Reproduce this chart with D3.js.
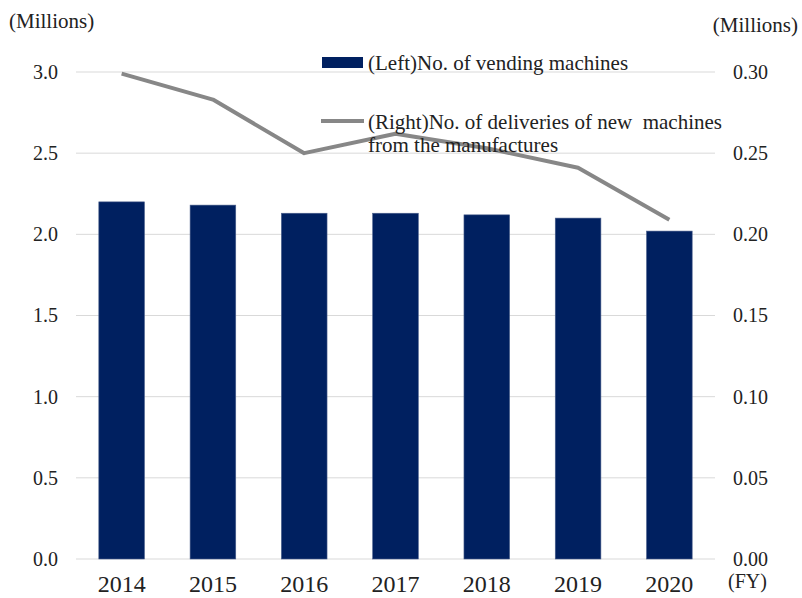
<!DOCTYPE html>
<html>
<head>
<meta charset="utf-8">
<script src="https://cdn.jsdelivr.net/npm/d3@7"></script>
<style>
  html, body { margin: 0; padding: 0; background: #fff; }
  svg { display: block; }
  svg text { font-family: "Liberation Serif", "Times New Roman", serif !important; }
</style>
</head>
<body>
<svg id="chart" width="802" height="598"></svg>
<script>
// Fiscal years on the category axis
const years = ["2014", "2015", "2016", "2017", "2018", "2019", "2020"];
// Installed vending machines, millions (left axis)
const machines = [2.20, 2.18, 2.13, 2.13, 2.12, 2.10, 2.02];
// Deliveries of new machines from manufacturers, millions (right axis)
const deliveries = [0.299, 0.283, 0.250, 0.262, 0.253, 0.241, 0.209];
// Axis ticks
const leftTicks = [0, 0.5, 1.0, 1.5, 2.0, 2.5, 3.0];
const rightTicks = [0, 0.05, 0.10, 0.15, 0.20, 0.25, 0.30];
// Legend entries
const legendLeft = "(Left)No. of vending machines";
const legendRight = ["(Right)No. of deliveries of new  machines", "from the manufactures"];

const serif = "'Liberation Serif', 'Times New Roman', serif";
const svg = d3.select("#chart");
const plot = { left: 76, right: 715, top: 72, bottom: 559 };

const x = d3.scaleBand().domain(years)
  .range([plot.left, plot.right]).paddingInner(0.5).paddingOuter(0.25);
const yL = d3.scaleLinear().domain([0, 3]).range([plot.bottom, plot.top]);
const yR = d3.scaleLinear().domain([0, 0.3]).range([plot.bottom, plot.top]);

// Horizontal gridlines
svg.append("g")
  .selectAll("line").data(leftTicks).join("line")
  .attr("x1", plot.left).attr("x2", plot.right)
  .attr("y1", d => yL(d)).attr("y2", d => yL(d))
  .attr("stroke", "#d9d9d9").attr("stroke-width", 1);

// Left axis
const leftAxis = svg.append("g")
  .attr("transform", `translate(${plot.left},0)`)
  .call(d3.axisLeft(yL).tickValues(leftTicks).tickFormat(d3.format(".1f")).tickSize(0).tickPadding(18));
leftAxis.attr("font-family", serif).attr("font-size", 20);
leftAxis.select(".domain").remove();
leftAxis.selectAll("text").style("font-family", serif).attr("font-size", 20).attr("fill", "#222");

// Right axis
const rightAxis = svg.append("g")
  .attr("transform", `translate(${plot.right},0)`)
  .call(d3.axisRight(yR).tickValues(rightTicks).tickFormat(d3.format(".2f")).tickSize(0).tickPadding(18));
rightAxis.attr("font-family", serif).attr("font-size", 20);
rightAxis.select(".domain").remove();
rightAxis.selectAll("text").style("font-family", serif).attr("font-size", 20).attr("fill", "#222");

// Bottom axis
const bottomAxis = svg.append("g")
  .attr("transform", `translate(0,${plot.bottom})`)
  .call(d3.axisBottom(x).tickSize(0).tickPadding(16));
bottomAxis.attr("font-family", serif).attr("font-size", 24);
bottomAxis.select(".domain").remove();
bottomAxis.selectAll("text").style("font-family", serif).attr("font-size", 24).attr("fill", "#222");

// Bars
svg.append("g")
  .selectAll("rect").data(years).join("rect")
  .attr("x", d => x(d))
  .attr("width", x.bandwidth())
  .attr("y", (d, i) => yL(machines[i]))
  .attr("height", (d, i) => yL(0) - yL(machines[i]))
  .attr("fill", "#002060")
  .attr("stroke", "#4a5f8c").attr("stroke-width", 0.6);

// Deliveries line
const line = d3.line()
  .x((d, i) => x(years[i]) + x.bandwidth() / 2)
  .y(d => yR(d));
svg.append("path")
  .datum(deliveries)
  .attr("d", line)
  .attr("fill", "none")
  .attr("stroke", "#878787")
  .attr("stroke-width", 4)
  .attr("stroke-linejoin", "round");

// Unit labels
svg.append("text").attr("x", 9).attr("y", 28)
  .attr("font-size", 21).attr("fill", "#222").text("(Millions)");
svg.append("text").attr("x", 798).attr("y", 32).attr("text-anchor", "end")
  .attr("font-size", 21).attr("fill", "#222").text("(Millions)");
svg.append("text").attr("x", 728).attr("y", 588)
  .attr("font-size", 20).attr("fill", "#222").text("(FY)");

// Legend
const legend = svg.append("g");
legend.append("rect").attr("x", 322).attr("y", 57).attr("width", 41).attr("height", 11)
  .attr("fill", "#002060");
legend.append("text").attr("x", 368).attr("y", 70)
  .attr("font-size", 21).attr("fill", "#222").text(legendLeft);
legend.append("line").attr("x1", 321).attr("x2", 364).attr("y1", 121).attr("y2", 121)
  .attr("stroke", "#878787").attr("stroke-width", 4);
legend.selectAll("text.r").data(legendRight).join("text")
  .attr("class", "r")
  .attr("x", 368).attr("y", (d, i) => 129 + i * 23)
  .attr("font-size", 21).attr("fill", "#222")
  .style("white-space", "pre")
  .text(d => d);
</script>
</body>
</html>
